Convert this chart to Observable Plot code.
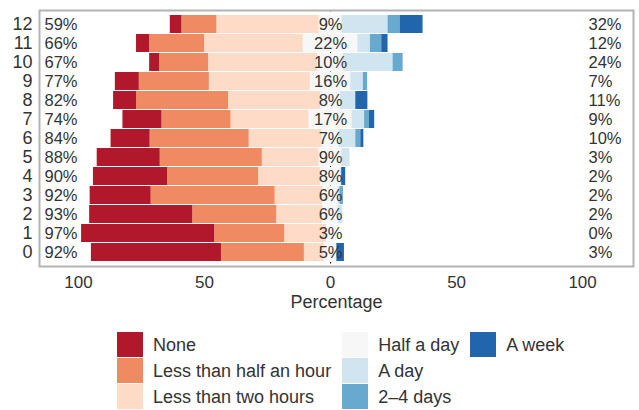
<!DOCTYPE html>
<html><head><meta charset="utf-8">
<script src="https://cdn.jsdelivr.net/npm/d3@7"></script>
<script src="https://cdn.jsdelivr.net/npm/@observablehq/plot@0.6"></script>
<style>
body{margin:0;background:#fff;font-family:"Liberation Sans",Arial,sans-serif;}
#legend{display:grid;grid-template-rows:repeat(3,26px);grid-auto-flow:column;column-gap:11px;margin:12px 0 0 117px;width:max-content;font-size:18px;color:#333}
.item{display:flex;align-items:center;}
.sw{width:26px;height:26px;margin-right:10px;box-sizing:border-box;border-bottom:1px solid #fff}
</style></head><body>
<div id="chart"></div><div id="legend"></div>
<script>
const rows = [0,1,2,3,4,5,6,7,8,9,10,11,12];
const categories = ["None","Less than half an hour","Less than two hours","Half a day","A day","2–4 days","A week"];
const colors = ["#b2182b","#ef8a62","#fddbc7","#f7f7f7","#d1e5f0","#67a9cf","#2166ac"];
const xTicks = [-100,-50,0,50,100];

const none     = [51.6,52.8,40.9,24.2,29.4,25.0,15.5,15.5, 9.1, 9.5, 4.0, 5.2, 4.6];
const lessHalf = [32.9,27.8,33.3,49.2,36.1,40.5,39.3,27.4,36.5,27.8,19.4,21.8,13.9];
const less2h   = [ 7.9,16.7,18.4,19.0,24.6,22.6,29.0,31.0,36.5,40.1,43.4,39.2,40.6];
const halfDay  = [ 5.0, 3.0, 6.0, 6.0, 8.0, 9.0, 6.6,17.0, 8.0,16.0,10.0,21.6, 9.0];
const aDay     = [ 0.0, 0.0, 1.8, 0.7, 0.4, 3.2, 6.7, 5.0, 6.0, 5.0,19.8, 5.0,18.3];
const days24   = [ 0.0, 0.0, 0.0, 1.4, 0.0, 0.0, 2.0, 1.8, 0.0, 1.7, 4.0, 4.5, 4.8];
const aWeek    = [ 3.0, 0.0, 0.0, 0.0, 1.6, 0.0, 1.2, 2.2, 4.8, 0.0, 0.0, 2.5, 9.1];

const data = [];
const summary = [];
rows.forEach((r, i) => {
  const n = halfDay[i];
  let left = -n / 2;
  [[categories[2], less2h[i]], [categories[1], lessHalf[i]], [categories[0], none[i]]].forEach(([c, v]) => {
    data.push({row: r, cat: c, x1: left - v, x2: left});
    left -= v;
  });
  data.push({row: r, cat: categories[3], x1: -n / 2, x2: n / 2});
  let right = n / 2;
  [[categories[4], aDay[i]], [categories[5], days24[i]], [categories[6], aWeek[i]]].forEach(([c, v]) => {
    data.push({row: r, cat: c, x1: right, x2: right + v});
    right += v;
  });
  summary.push({
    row: r,
    low: Math.round(none[i] + lessHalf[i] + less2h[i]) + "%",
    mid: Math.round(n) + "%",
    high: Math.round(aDay[i] + days24[i] + aWeek[i]) + "%"
  });
});

const chart = Plot.plot({
  width: 639, height: 320,
  marginLeft: 39, marginRight: 6, marginTop: 10, marginBottom: 54,
  style: {fontSize: "17px", fontFamily: "Liberation Sans, Arial, sans-serif", color: "#333", background: "white", overflow: "visible"},
  x: {domain: [-115.5, 120.2], ticks: xTicks, tickFormat: d => Math.abs(d), tickSize: 0, tickPadding: 9,
      label: "Percentage", labelAnchor: "center", labelOffset: 41, labelArrow: false},
  y: {type: "band", domain: rows.slice().reverse(), paddingInner: 0.077, paddingOuter: 0.1, tickSize: 0, tickPadding: 7, label: null},
  color: {domain: categories, range: colors},
  marks: [
    Plot.ruleX([0], {stroke: "#000", strokeDasharray: "1.5,4.5"}),
    Plot.barX(data, {x1: "x1", x2: "x2", y: "row", fill: "cat"}),
    Plot.text(summary, {y: "row", text: "low", frameAnchor: "left", textAnchor: "start", dx: 5, fill: "#333", fontSize: 16.5}),
    Plot.text(summary, {x: 0, y: "row", text: "mid", textAnchor: "middle", fill: "#333", fontSize: 16.5}),
    Plot.text(summary, {y: "row", text: "high", frameAnchor: "right", textAnchor: "start", dx: -45, fill: "#333", fontSize: 16.5}),
    Plot.frame({stroke: "#b3b3b3", strokeWidth: 2})
  ]
});
d3.select(chart).selectAll('g[aria-label="y-axis tick label"]').attr("font-size", 18);
d3.select(chart).selectAll('g[aria-label="x-axis label"]').attr("font-size", 18);
document.getElementById("chart").appendChild(chart);

const legend = document.getElementById("legend");
categories.forEach((c, i) => {
  const item = document.createElement("div");
  item.className = "item";
  const sw = document.createElement("span");
  sw.className = "sw";
  sw.style.background = colors[i];
  const lab = document.createElement("span");
  lab.textContent = c;
  item.appendChild(sw);
  item.appendChild(lab);
  legend.appendChild(item);
});
</script>
</body></html>
